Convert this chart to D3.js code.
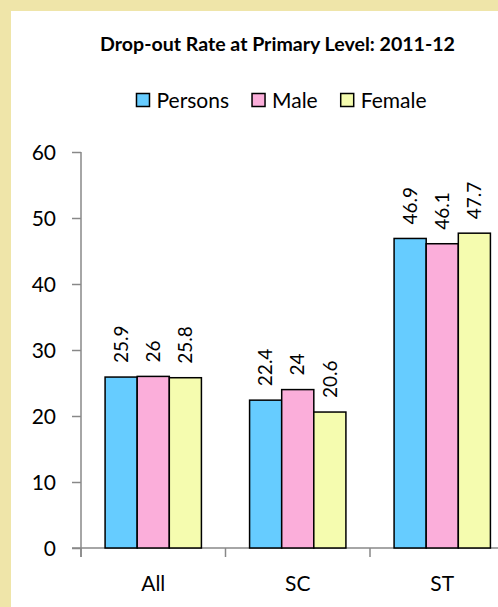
<!DOCTYPE html>
<html>
<head>
<meta charset="utf-8">
<script src="https://cdn.jsdelivr.net/npm/d3@7"></script>
<style>
html,body{margin:0;padding:0;background:#fff;}
svg{display:block;}
text{font-family:Lato,"Open Sans",sans-serif;fill:#000;}
</style>
</head>
<body>
<svg id="chart" width="498" height="607"></svg>
<script>
const categories = ["All", "SC", "ST"];
const seriesNames = ["Persons", "Male", "Female"];
const persons = [25.9, 22.4, 46.9];
const male = [26, 24, 46.1];
const female = [25.8, 20.6, 47.7];
const yTicks = [0, 10, 20, 30, 40, 50, 60];
const title = "Drop-out Rate at Primary Level: 2011-12";
const colors = ["#66CCFF", "#FBAEDA", "#F5FCAF"];

const seriesValues = [persons, male, female];
const rows = categories.map((c, i) => ({
  cat: c,
  vals: seriesNames.map((s, j) => ({ key: s, value: seriesValues[j][i], color: colors[j] }))
}));

const W = 498, H = 607;
const svg = d3.select("#chart");

// background frame
svg.append("rect").attr("x", 0).attr("y", 0).attr("width", W).attr("height", H).attr("fill", "#EFE5A9");
svg.append("rect").attr("x", 11).attr("y", 11).attr("width", W - 11).attr("height", H - 11).attr("fill", "#fff");

// title (sized to span the same width as the reference)
const titleEl = svg.append("text").attr("x", 277.5).attr("y", 51).attr("text-anchor", "middle")
  .style("font-weight", "bold").style("font-size", "17px").text(title);
const tw = titleEl.node().getComputedTextLength();
titleEl.style("font-size", (17 * 355 / tw).toFixed(2) + "px");

// scales
const y = d3.scaleLinear().domain([0, 60]).range([548, 152]);
const x0 = d3.scaleBand().domain(categories).range([81, 514.5]).paddingInner(0).paddingOuter(0);
const x1 = d3.scaleBand().domain(seriesNames).range([0, x0.bandwidth()]).paddingInner(0).paddingOuter(0.75);

const axisColor = "#888";

// y axis
const yAxis = svg.append("g").attr("transform", "translate(81,0)")
  .call(d3.axisLeft(y).tickValues(yTicks).tickSize(9).tickPadding(16).tickFormat(d3.format("d")));
yAxis.select(".domain").remove();
yAxis.selectAll(".tick line").attr("stroke", axisColor).attr("stroke-width", 1.5);
yAxis.selectAll(".tick text").style("font-size", "21px").style("font-family", "Lato").attr("fill", "#000").attr("dy", "0.35em");
svg.append("line").attr("x1", 81).attr("x2", 81).attr("y1", y(60)).attr("y2", 557)
  .attr("stroke", axisColor).attr("stroke-width", 1.5);

// x axis
svg.append("line").attr("x1", 72).attr("x2", W).attr("y1", y(0)).attr("y2", y(0))
  .attr("stroke", axisColor).attr("stroke-width", 1.5);
const boundaries = categories.map(c => x0(c)).concat([x0(categories[categories.length - 1]) + x0.bandwidth()]);
svg.selectAll(".xtick").data(boundaries).join("line").attr("class", "xtick")
  .attr("x1", d => d).attr("x2", d => d).attr("y1", y(0)).attr("y2", 557)
  .attr("stroke", axisColor).attr("stroke-width", 1.5);
svg.selectAll(".xlab").data(categories).join("text").attr("class", "xlab")
  .attr("x", d => x0(d) + x0.bandwidth() / 2).attr("y", 590.5)
  .attr("text-anchor", "middle").style("font-size", "21px").text(d => d);

// bars
const groups = svg.selectAll(".grp").data(rows).join("g").attr("class", "grp")
  .attr("transform", d => `translate(${x0(d.cat)},0)`);
groups.selectAll("rect").data(d => d.vals).join("rect")
  .attr("x", d => x1(d.key)).attr("width", x1.bandwidth())
  .attr("y", d => y(d.value)).attr("height", d => y(0) - y(d.value))
  .attr("fill", d => d.color).attr("stroke", "#000").attr("stroke-width", 1.5);
groups.selectAll(".lbl").data(d => d.vals).join("text").attr("class", "lbl")
  .attr("transform", d => `translate(${x1(d.key) + x1.bandwidth() / 2},${y(d.value) - 14}) rotate(-90)`)
  .attr("dy", "0.35em").attr("text-anchor", "start").style("font-size", "19px")
  .text(d => d.value);

// legend
const leg = svg.append("g");
let cx = 0;
seriesNames.forEach((s, i) => {
  const g = leg.append("g");
  g.append("rect").attr("x", cx).attr("y", 93.5).attr("width", 13).attr("height", 13)
    .attr("fill", colors[i]).attr("stroke", "#000").attr("stroke-width", 1.5);
  const t = g.append("text").attr("x", cx + 20).attr("y", 108).style("font-size", "21px").text(s);
  const w = t.node().getComputedTextLength();
  cx += 20 + w + 23;
});
const legW = cx - 23;
leg.attr("transform", `translate(${281.5 - legW / 2},0)`);
</script>
</body>
</html>
